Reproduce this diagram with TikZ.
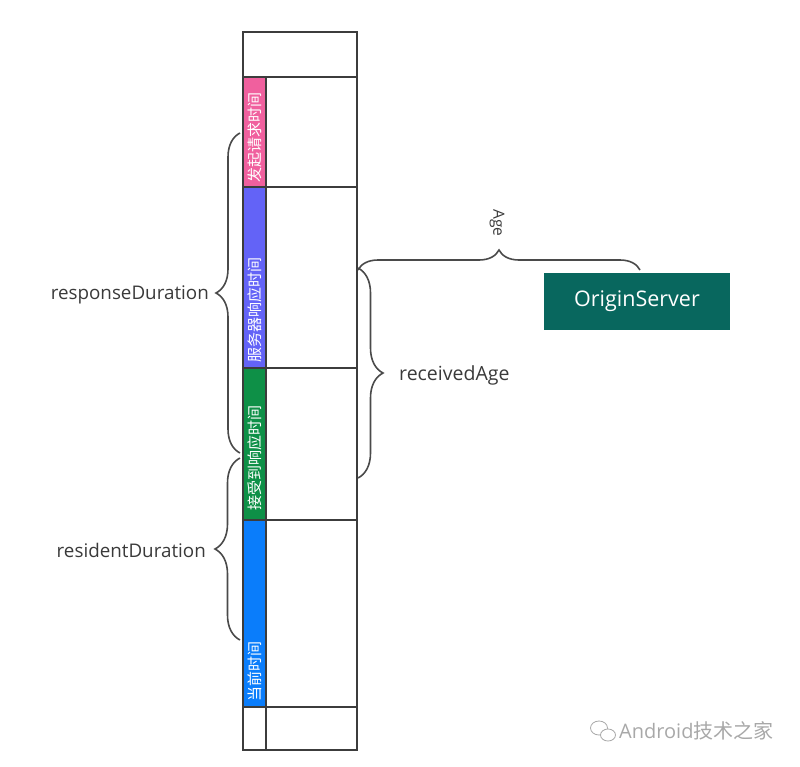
\documentclass[tikz,border=0pt]{standalone}
\usepackage{fontspec}
\setmainfont{Open Sans}
\newfontfamily\cjk{Noto Sans CJK SC}
\usetikzlibrary{decorations.pathreplacing, positioning}

\definecolor{linegray}{HTML}{3C3C3C}
\definecolor{bracegray}{HTML}{4A4A4A}
\definecolor{textgray}{HTML}{3A3A3A}
\definecolor{pinkc}{HTML}{F0609E}
\definecolor{purplec}{HTML}{6363F7}
\definecolor{greenc}{HTML}{0E9047}
\definecolor{bluec}{HTML}{0A7DFB}
\definecolor{tealc}{HTML}{08675E}
\definecolor{markgray}{HTML}{A8A8A8}

\tikzset{
  cell/.style={draw=linegray, line width=1.3pt, inner sep=0pt, minimum width=91pt},
  strip/.style={cell, minimum width=23pt},
  vlabel/.style={rotate=90, text=white, inner sep=0pt, font=\cjk\fontsize{15}{15}\selectfont},
  brc/.style={draw=bracegray, line width=1.6pt, decorate, decoration={brace, amplitude=#1}},
  lbl/.style={text=textgray, inner sep=0pt, font=\fontsize{18.8}{18.8}\selectfont}
}

\begin{document}
\begin{tikzpicture}[x=1pt, y=-1pt]
	\useasboundingbox (0,0) rectangle (800,766);

	% column of cells
	\node[cell, minimum width=114pt, minimum height=45pt] (top) at (300,54.5) {};
	\node[strip, fill=pinkc, minimum height=110pt] (s1) at (254.5,132) {};
	\node[cell, minimum height=110pt] (c1) at (311.5,132) {};
	\node[strip, fill=purplec, minimum height=181pt] (s2) at (254.5,277.5) {};
	\node[cell, minimum height=181pt] (c2) at (311.5,277.5) {};
	\node[strip, fill=greenc, minimum height=152pt] (s3) at (254.5,444) {};
	\node[cell, minimum height=152pt] (c3) at (311.5,444) {};
	\node[strip, fill=bluec, minimum height=187pt] (s4) at (254.5,613.5) {};
	\node[cell, minimum height=187pt] (c4) at (311.5,613.5) {};
	\node[strip, minimum height=43pt] (s5) at (254.5,728.5) {};
	\node[cell, minimum height=43pt] (c5) at (311.5,728.5) {};

	\node[vlabel] (t1) at (254.5,137) {发起请求时间};
	\node[vlabel] (t2) at (254.5,310) {服务器响应时间};
	\node[vlabel] (t3) at (254.5,458) {接受到响应时间};
	\node[vlabel] (t4) at (254.5,671) {当前时间};

	\node[fill=tealc, text=white, minimum width=186pt, minimum height=57pt, font=\fontsize{21.5}{21.5}\selectfont] (origin) at (637,301.5) {OriginServer};

	% braces
	\coordinate (respA) at (240,453);
	\coordinate (respB) at (240,133);
	\coordinate (resiA) at (240,640);
	\coordinate (resiB) at (240,458);
	\coordinate (recvA) at (358,268);
	\coordinate (recvB) at (358,478);
	\coordinate (ageA) at (358,270);
	\coordinate (ageB) at (640,270);

	\draw[brc=24pt] (respA) -- (respB);
	\draw[brc=25pt] (resiA) -- (resiB);
	\draw[brc=25pt] (recvA) -- (recvB);
	\draw[brc=20pt] (ageA) -- (ageB);

	\node[lbl, anchor=east] (respLbl) at (209,295) {responseDuration};
	\node[lbl, anchor=east] (resiLbl) at (206,550) {residentDuration};
	\node[lbl, anchor=west, font=\fontsize{19.5}{19.5}\selectfont] (recvLbl) at (399,375) {receivedAge};
	\node[lbl, rotate=-90, font=\fontsize{15.5}{15.5}\selectfont] (ageLbl) at (497,223) {Age};

	% watermark
	\draw[markgray, line width=0.8pt] (599,728) ellipse (8.5pt and 7pt);
	\draw[markgray, line width=0.8pt, fill=white] (608,735) ellipse (7.5pt and 6pt);
	\node[text=markgray, inner sep=0pt, anchor=west, font=\fontsize{20}{20}\selectfont] (mark) at (619,731) {Android{\cjk 技术之家}};
\end{tikzpicture}
\end{document}
